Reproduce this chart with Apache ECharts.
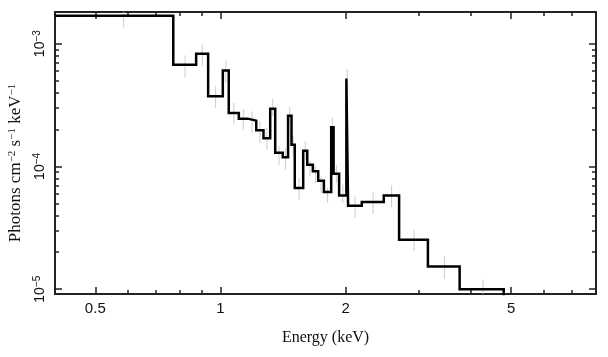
<!DOCTYPE html>
<html>
<head>
<meta charset="utf-8">
<script src="https://cdn.jsdelivr.net/npm/echarts@6/dist/echarts.min.js"></script>
<style>html,body{margin:0;padding:0;background:#fff;}#c{width:608px;height:357px;}</style>
</head>
<body>
<div id="c"></div>
<script>
// Bin edges (keV), 31 bins
const binEdges = [0.4, 0.770, 0.874, 0.934, 1.013, 1.047, 1.107, 1.163, 1.219, 1.269, 1.317,
  1.354, 1.412, 1.454, 1.482, 1.509, 1.581, 1.617, 1.668, 1.718, 1.773, 1.846, 1.871, 1.929,
  2.008, 2.027, 2.187, 2.470, 2.689, 3.154, 3.760, 4.799];
// Model flux per bin (photons cm^-2 s^-1 keV^-1)
const flux = [1.69e-3, 6.72e-4, 8.26e-4, 3.72e-4, 6.03e-4, 2.72e-4, 2.45e-4, 2.36e-4, 1.97e-4,
  1.70e-4, 2.95e-4, 1.29e-4, 1.19e-4, 2.59e-4, 1.50e-4, 6.67e-5, 1.34e-4, 1.03e-4, 9.15e-5,
  7.66e-5, 6.19e-5, 2.08e-4, 8.73e-5, 5.81e-5, 5.19e-4, 4.79e-5, 5.13e-5, 5.81e-5, 2.53e-5,
  1.53e-5, 1.00e-5];
// Data error bars (upper / lower)
const errHigh = [1.95e-3, 8.03e-4, 9.81e-4, 4.49e-4, 7.27e-4, 3.29e-4, 2.93e-4, 2.81e-4, 2.33e-4,
  2.06e-4, 3.54e-4, 1.46e-4, 1.41e-4, 3.08e-4, 1.78e-4, 8.05e-5, 1.60e-4, 1.10e-4, 1.00e-4,
  8.29e-5, 6.67e-5, 2.48e-4, 1.03e-4, 7.10e-5, 6.22e-4, 5.70e-5, 6.14e-5, 6.97e-5, 3.03e-5,
  1.85e-5, 1.20e-5];
const errLow = [1.35e-3, 5.31e-4, 6.53e-4, 2.99e-4, 4.78e-4, 2.19e-4, 1.97e-4, 1.87e-4, 1.55e-4,
  1.37e-4, 2.56e-4, 1.03e-4, 9.41e-5, 2.26e-4, 1.22e-4, 5.36e-5, 1.14e-4, 8.29e-5, 7.33e-5,
  6.08e-5, 5.04e-5, 1.76e-4, 7.33e-5, 5.04e-5, 4.22e-4, 3.80e-5, 4.10e-5, 4.64e-5, 2.06e-5,
  1.21e-5, 7.5e-6];
// Axis ranges and ticks
const xRange = [0.4, 8];
const yRange = [9.14e-6, 1.81e-3];
const xMajorTicks = [0.5, 1, 2, 5];
const xMinorTicks = [0.6, 0.7, 0.8, 0.9, 3, 4, 6, 7, 8];
const yMajorTicks = [1e-5, 1e-4, 1e-3];
const yMinorTicks = [2e-5, 3e-5, 4e-5, 5e-5, 6e-5, 7e-5, 8e-5, 9e-5,
  2e-4, 3e-4, 4e-4, 5e-4, 6e-4, 7e-4, 8e-4, 9e-4];

const L = Math.log10;
const xMin = L(xRange[0]), xMax = L(xRange[1]);
const yMin = L(yRange[0]), yMax = L(yRange[1]);

// step line points
const stepPts = [];
for (let i = 0; i < flux.length; i++) {
  stepPts.push([L(binEdges[i]), L(flux[i])]);
  stepPts.push([L(binEdges[i + 1]), L(flux[i])]);
}
stepPts.push([L(binEdges[binEdges.length - 1]), yMin - 1]);

const errData = flux.map((v, i) => [L((binEdges[i] + binEdges[i + 1]) / 2), L(errLow[i]), L(errHigh[i])]);

const axisColor = '#222';
function xAx(pos, major, labels) {
  return {
    type: 'value', position: pos, min: xMin, max: xMax, splitLine: {show: false},
    axisLine: {show: major, onZero: false, lineStyle: {color: axisColor, width: 2}},
    axisTick: {show: true, inside: true, length: major ? 7 : 4,
      customValues: (major ? xMajorTicks : xMinorTicks).map(L),
      lineStyle: {color: axisColor, width: 1.5}},
    axisLabel: {show: labels, customValues: xMajorTicks.map(L), margin: 7,
      fontFamily: 'Liberation Sans', fontSize: 15, color: '#111',
      formatter: v => String(Number(Math.pow(10, v).toPrecision(3)))},
    name: labels ? 'Energy (keV)' : '', nameLocation: 'middle', nameGap: 36,
    nameTextStyle: {fontFamily: 'Liberation Serif', fontSize: 16, color: '#111'}
  };
}
function yAx(pos, major, labels) {
  return {
    type: 'value', position: pos, min: yMin, max: yMax, splitLine: {show: false},
    axisLine: {show: major, onZero: false, lineStyle: {color: axisColor, width: 2}},
    axisTick: {show: true, inside: true, length: major ? 7 : 4,
      customValues: (major ? yMajorTicks : yMinorTicks).map(L),
      lineStyle: {color: axisColor, width: 1.5}},
    axisLabel: {show: labels, customValues: yMajorTicks.map(L), margin: 6, rotate: 90,
      color: '#111',
      formatter: v => '{b|10}{s|−' + Math.abs(Math.round(v)) + '}',
      rich: {
        b: {fontFamily: 'Liberation Sans', fontSize: 14, lineHeight: 17, color: '#111'},
        s: {fontFamily: 'Liberation Sans', fontSize: 10, lineHeight: 11, verticalAlign: 'top', color: '#111'}
      }},
    name: labels ? 'Photons cm{s|−2} s{s|−1} keV{s|−1}' : '', nameLocation: 'middle', nameGap: 20,
    nameTextStyle: {fontFamily: 'Liberation Serif', fontSize: 17, color: '#111', padding: [0, 20, 0, 0],
      rich: {s: {fontFamily: 'Liberation Serif', fontSize: 11, lineHeight: 12, verticalAlign: 'top', color: '#111'}}}
  };
}

const chart = echarts.init(document.getElementById('c'), null, {renderer: 'canvas'});
chart.setOption({
  animation: false,
  backgroundColor: '#fff',
  grid: {left: 55, right: 12, top: 12, bottom: 63, containLabel: false, outerBoundsMode: 'none'},
  xAxis: [xAx('bottom', true, true), xAx('bottom', false, false), xAx('top', true, false), xAx('top', false, false)],
  yAxis: [yAx('left', true, true), yAx('left', false, false), yAx('right', true, false), yAx('right', false, false)],
  series: [
    {
      type: 'custom', xAxisIndex: 0, yAxisIndex: 0, z: 1, clip: true,
      data: errData,
      encode: {x: 0, y: [1, 2]},
      renderItem: function (params, api) {
        const cs = params.coordSys;
        const p1 = api.coord([api.value(0), api.value(1)]);
        const p2 = api.coord([api.value(0), api.value(2)]);
        const clampY = y => Math.max(cs.y, Math.min(cs.y + cs.height, y));
        return {type: 'line', shape: {x1: p1[0], y1: clampY(p1[1]), x2: p2[0], y2: clampY(p2[1])},
          style: {stroke: '#cccccc', lineWidth: 1}};
      }
    },
    {
      type: 'line', xAxisIndex: 0, yAxisIndex: 0, z: 3, data: stepPts,
      showSymbol: false, symbol: 'none', clip: true,
      lineStyle: {color: '#000', width: 2.5, join: 'miter', cap: 'butt'}
    }
  ]
});
</script>
</body>
</html>
